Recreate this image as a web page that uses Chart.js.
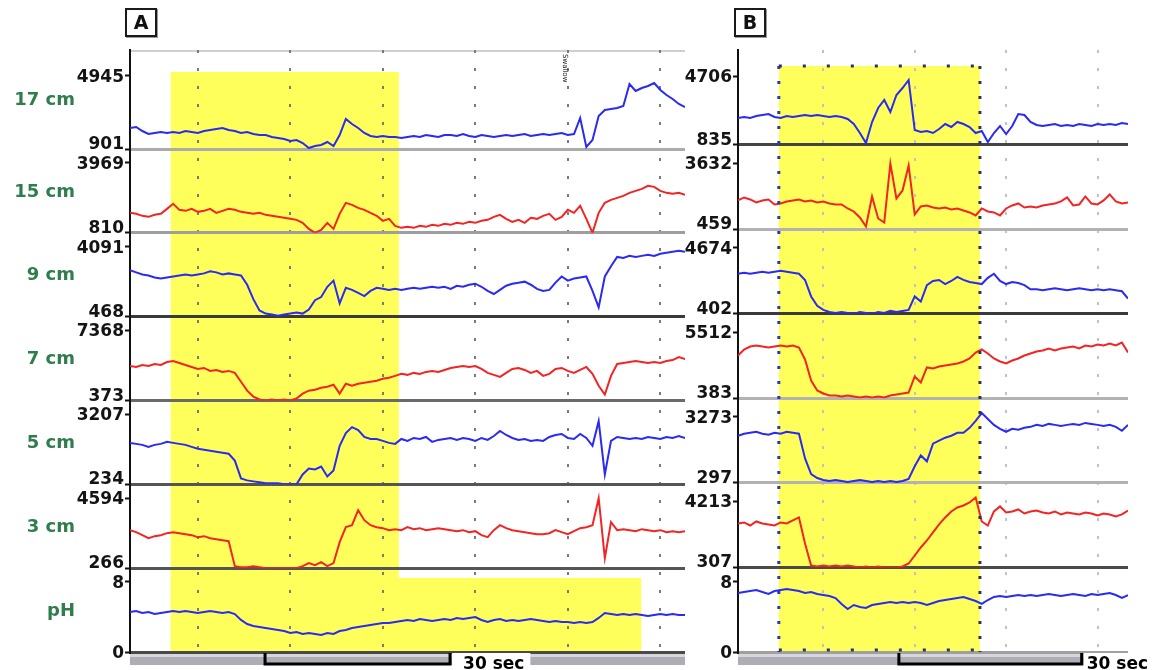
<!DOCTYPE html>
<html>
<head>
<meta charset="utf-8">
<title>Impedance-pH tracings</title>
<script src="https://cdn.jsdelivr.net/npm/chart.js@4.4.1/dist/chart.umd.min.js"></script>
<style>
  html, body { margin: 0; padding: 0; background: #fff; }
  body { position: relative; width: 1153px; height: 670px; overflow: hidden; font-family: "DejaVu Sans", Verdana, sans-serif; }
  #boxA { position: absolute; left: 0; top: 0; width: 688px; height: 670px; }
  #boxB { position: absolute; left: 680px; top: 0; width: 473px; height: 670px; }
  .tag { position: absolute; top: 8px; width: 28px; height: 25px; border: 2px solid #1a1a1a; box-shadow: 1px 1px 0 #999;
         font: bold 19px "DejaVu Sans", sans-serif; text-align: center; line-height: 25px; color: #111; background: #fff; }
</style>
</head>
<body>
<div id="boxA"><canvas id="chartA" width="688" height="670"></canvas></div>
<div id="boxB"><canvas id="chartB" width="473" height="670"></canvas></div>
<div class="tag" style="left:125px">A</div>
<div class="tag" style="left:734px">B</div>

<script>
// --- 1. DATA (time in s, impedance in ohm, pH units) ---

const timeA = [4,5,6,7,8,9,10,11,12,13,14,15,16,17,18,19,20,21,22,23,24,25,26,27,28,29,30,31,32,33,34,35,36,37,38,39,40,41,42,43,
  44,45,46,47,48,49,50,51,52,53,54,55,56,57,58,59,60,61,62,63,64,65,66,67,68,69,70,71,72,73,74,75,76,77,78,79,80,81,82,83,
  84,85,86,87,88,89,90,91,92,93,94];
const timeB = [1,2,3,4,5,6,7,8,9,10,11,12,13,14,15,16,17,18,19,20,21,22,23,24,25,26,27,28,29,30,31,32,33,34,35,36,37,38,39,40,
  41,42,43,44,45,46,47,48,49,50,51,52,53,54,55,56,57,58,59,60,61,62,63,64,65];

const channelNames = ['17 cm', '15 cm', '9 cm', '7 cm', '5 cm', '3 cm', 'pH'];
const lowA  = [901, 810, 468, 373, 234, 266, 0];
const highA = [4945, 3969, 4091, 7368, 3207, 4594, 8];
const lowB  = [835, 459, 402, 383, 297, 307, 0];
const highB = [4706, 3632, 4674, 5512, 3273, 4213, 8];

// panel A
const a17 = [2064,2120,1898,1732,1787,1843,1787,1843,1787,1898, 1843,1787,1898,1954,2009,2064,1954,1898,1787,1843,
  1732,1677,1677,1566,1510,1455,1344,1400,1233,956, 1067,1123,1289,1067,1677,2563,2286,2064,1787,1621,
  1566,1621,1566,1566,1510,1566,1621,1566,1677,1621, 1566,1677,1677,1621,1732,1621,1566,1677,1621,1566,
  1621,1677,1621,1677,1732,1621,1677,1732,1677,1732, 1787,1677,1732,2618,1012,1400,2729,3062,3117,3172,
  3283,4502,4114,4280,4391,4557,4170,3893,3671,3394, 3228];
const a15 = [1712,1667,1577,1532,1622,1667,1892,2118,1847,1802, 1892,1757,1802,1892,1712,1802,1892,1847,1757,1712,
  1667,1712,1622,1577,1532,1487,1441,1396,1261,990, 810,945,1261,990,1667,2163,2073,1938,1847,1712,
  1577,1351,1441,1126,1036,1081,1036,1126,1081,1171, 1126,1216,1171,1261,1216,1306,1261,1351,1396,1532,
  1622,1441,1306,1396,1261,1487,1441,1577,1667,1396, 1532,1847,1712,2028,1441,810,1712,2163,2298,2389,
  2479,2614,2704,2794,2930,2885,2704,2614,2569,2614, 2524];
const a9 = [2867,2760,2653,2600,2493,2440,2493,2547,2600,2653, 2600,2653,2707,2813,2760,2653,2707,2653,2600,2120,
  1374,788,628,575,521,575,628,681,628,841, 1321,1481,2014,2334,1161,1960,1854,1694,1534,1801,
  1960,1907,1854,1907,1854,1907,1960,1907,1960,2014, 1960,2014,1907,2067,2014,2120,2174,2014,1801,1641,
  1854,2067,2174,2227,2280,2120,1907,1801,1854,2227, 2547,2334,2440,2493,2547,1801,948,2547,3080,3559,
  3506,3613,3559,3613,3666,3613,3719,3773,3826,3879, 3826];
const a7 = [3821,3722,3919,3821,4018,3919,4215,4313,4116,3919, 3722,3525,3624,3328,3427,3230,3328,3131,2245,1358,
  767,472,373,472,373,472,373,570,1063,1358, 1457,1654,1752,1949,1063,2048,1851,2048,2146,2245,
  2343,2540,2639,2836,3033,2934,3131,3033,3230,3328, 3230,3427,3624,3722,3821,3722,3821,3525,3131,2934,
  2737,3131,3525,3624,3427,3131,3328,2836,3033,3525, 3624,3328,3131,3427,3722,3033,1851,964,2836,4018,
  4116,4215,4313,4215,4116,4215,4116,4313,4412,4707, 4510];
const a5 = [1994,1952,1910,1826,1910,1952,2036,1994,1952,1910, 1826,1742,1701,1659,1617,1575,1533,1240,485,402,
  360,318,276,276,276,234,234,234,653,904, 863,988,569,821,1868,2413,2664,2539,2245,2161,
  2161,2078,1994,1952,2161,2078,2203,2161,2245,2036, 2120,2161,2203,2120,2203,2161,2078,2203,2120,2287,
  2497,2329,2203,2120,2161,2078,2120,2078,2245,2329, 2371,2203,2161,2371,2203,1868,2916,653,2078,2245,
  2203,2161,2203,2161,2245,2203,2161,2245,2203,2287, 2203];
const a3 = [2614,2491,2305,2120,2244,2305,2429,2491,2429,2367, 2305,2182,2244,2120,2058,1996,1935,390,328,328,
  390,328,266,266,266,266,266,266,390,575, 451,637,390,575,1873,2800,2923,3850,3232,2923,
  2800,2738,2614,2676,2614,2800,2676,2738,2614,2676, 2738,2676,2614,2553,2614,2491,2553,2305,2182,2614,
  2923,2738,2614,2553,2491,2429,2367,2367,2429,2614, 2491,2367,2553,2738,2800,2923,4592,884,3109,2614,
  2676,2614,2553,2676,2614,2553,2614,2491,2553,2491, 2553];
const aPH = [4.57,4.69,4.46,4.57,4.34,4.46,4.57,4.69,4.57,4.69, 4.57,4.46,4.57,4.69,4.57,4.46,4.57,4.34,3.66,3.20,
  2.97,2.86,2.74,2.63,2.51,2.40,2.17,2.29,2.06,2.17, 2.06,1.94,2.17,2.06,2.40,2.51,2.74,2.86,2.97,3.09,
  3.20,3.31,3.31,3.43,3.54,3.66,3.54,3.77,3.66,3.54, 3.66,3.77,3.66,3.89,3.77,3.89,4.00,3.66,3.43,3.66,
  3.77,3.54,3.66,3.54,3.66,3.77,3.66,3.54,3.43,3.54, 3.43,3.43,3.31,3.43,3.31,3.43,3.89,4.46,4.34,4.23,
  4.34,4.23,4.34,4.23,4.11,4.23,4.34,4.23,4.34,4.23, 4.23];

// panel B
const b17 = [2350,2406,2350,2462,2518,2574,2406,2350,2462,2406, 2462,2518,2462,2518,2462,2406,2462,2406,2294,2013,
  1508,947,2125,2911,3360,2686,3640,4033,4482,1677, 1564,1620,1508,1733,2013,1845,2125,2013,1845,1508,
  1620,1003,1508,1901,1452,1901,2574,2518,2125,1957, 1901,1957,2013,1901,1957,1901,2013,1957,1901,2013,
  1957,2013,1957,2069,2013];
const b15 = [1854,1998,1902,1758,1854,1902,1662,1710,1806,1854, 1902,1806,1854,1758,1806,1710,1662,1662,1469,1325,
  1036,603,2046,988,796,3630,1950,2335,3537,1181, 1565,1613,1517,1469,1517,1421,1469,1373,1277,1132,
  1469,1325,1277,1132,1469,1613,1710,1517,1565,1517, 1613,1662,1710,1806,1998,1613,1662,2046,1710,1662,
  1854,2143,1806,1710,1758];
const b9 = [3005,3072,3005,3072,3139,3072,3139,3206,3139,3072, 3005,2605,1537,936,669,536,469,536,469,402,
  536,469,402,536,469,602,536,602,669,1537, 1203,2271,2538,2605,2338,2538,2805,2605,2471,2405,
  2338,2738,3005,2538,2338,2471,2405,2271,2004,2004, 1937,2004,2071,2004,1937,2004,2071,2004,1937,2004,
  1937,2004,1937,1871,1403];
const b7 = [3724,4190,4423,4501,4423,4346,4423,4501,4423,4501, 4346,3413,1782,1005,772,616,616,538,616,538,
  461,538,461,538,461,616,694,772,849,2092, 1626,2792,2714,2869,2947,3025,3103,3258,3491,3957,
  4190,3880,3491,3258,3103,3336,3491,3724,3880,4035, 4113,4268,4113,4268,4346,4423,4268,4501,4423,4579,
  4501,4657,4501,4734,3957];
const b5 = [2428,2517,2561,2606,2517,2473,2561,2517,2606,2561, 2517,1407,697,519,430,386,430,386,341,386,
  430,386,341,386,341,386,341,386,475,1052, 1540,1274,2073,2206,2339,2428,2561,2561,2783,3094,
  3449,3183,2917,2739,2606,2739,2695,2783,2828,2917, 2872,2961,2917,2872,2917,2961,2917,3005,2961,2917,
  2872,2917,2828,2650,2917];
const b3 = [2912,2971,2793,3030,2912,2853,2793,2971,2912,3089, 3267,1728,425,366,425,366,425,366,425,366,
  307,366,307,366,307,307,307,366,544,1017, 1491,1905,2379,2853,3267,3622,3859,3977,4155,4451,
  3030,2793,3622,3918,3563,3622,3741,3504,3622,3681, 3563,3504,3622,3445,3563,3504,3445,3563,3504,3385,
  3504,3445,3326,3445,3681];
const bPH = [6.74,6.86,6.97,7.09,6.86,6.63,6.97,7.09,7.20,7.09, 6.97,6.74,6.86,6.63,6.51,6.40,6.17,5.49,4.91,5.37,
  5.14,5.03,5.37,5.49,5.60,5.71,5.60,5.71,5.60,5.71, 5.60,5.37,5.60,5.83,5.94,6.06,6.17,6.29,6.06,5.83,
  5.49,5.94,6.29,6.40,6.29,6.40,6.51,6.40,6.51,6.40, 6.51,6.63,6.51,6.40,6.51,6.63,6.51,6.40,6.63,6.51,
  6.63,6.74,6.51,6.17,6.51];

const gridA = [15, 30, 45, 60, 75, 90];   // 15 s divisions
const gridB = [15, 30, 45, 60];
const shadeA = [10.6, 47.6, 86.9];        // reflux episode: start, end, end of pH drop
const shadeB = [7.7, 40.7];
const barA = [25.9, 55.9];                // 30 sec scale bar
const barB = [27.4, 57.4];
const eventA = [74.7];

// --- 2. STYLE ---
const BLUE = '#2a2af2', RED = '#f32424', YELLOW = '#ffff5c', GREEN = '#2f7d4d';
const traceColors = [BLUE, RED, BLUE, RED, BLUE, RED, BLUE];
const baseColorsA = ['#ababab', '#9e9e9e', '#3a3a3a', '#6a6a6a', '#555555', '#555555', '#4a4a4a'];
const baseColorsB = ['#444444', '#b2b2b2', '#3a3a3a', '#b2b2b2', '#b2b2b2', '#4a4a4a', '#a0a0a0'];
const FONT = '"DejaVu Sans", Verdana, sans-serif';

Chart.defaults.font.family = FONT;

// --- 3. DECORATION PLUGIN (shading, value labels, time bar) ---
function makeDecor(p) {
    function line(ctx, x0, y0, x1, y1) {
        ctx.beginPath(); ctx.moveTo(x0, y0); ctx.lineTo(x1, y1); ctx.stroke();
    }
    return {
        id: 'decor',
        beforeDraw(chart) {
            const { ctx, chartArea: ca, scales } = chart;
            const x = scales.x;
            ctx.save();
            ctx.fillStyle = YELLOW;
            p.shades.forEach(s => {
                const x0 = x.getPixelForValue(s.from), x1 = x.getPixelForValue(s.to);
                const top = scales['y' + s.track].getPixelForValue(p.high[s.track]) - s.lift;
                ctx.fillRect(x0, top, x1 - x0, ca.bottom - top);
            });
            if (p.topRule) {
                ctx.strokeStyle = '#cfcfcf'; ctx.lineWidth = 2;
                line(ctx, ca.left, ca.top + 1, ca.right, ca.top + 1);
            }
            ctx.restore();
        },
        afterDraw(chart) {
            const { ctx, chartArea: ca, scales } = chart;
            const x = scales.x;
            const yb = ca.bottom;
            ctx.save();

            // min / max labels of every track
            ctx.font = 'bold 17px ' + FONT;
            ctx.fillStyle = '#141414';
            ctx.textAlign = 'right';
            ctx.textBaseline = 'alphabetic';
            p.low.forEach((lo, i) => {
                const s = scales['y' + i];
                const lx = s.right - 6;
                const last = i === p.low.length - 1;
                ctx.fillText(String(p.high[i]), lx, s.getPixelForValue(p.high[i]) + 6);
                ctx.fillText(String(lo), lx, s.getPixelForValue(lo) + (last ? 6 : 0));
            });

            // channel names (panel A only)
            if (p.names) {
                ctx.font = 'bold 18px ' + FONT;
                ctx.fillStyle = GREEN;
                ctx.textBaseline = 'middle';
                p.names.forEach((n, i) => {
                    const s = scales['y' + i];
                    ctx.fillText(n, p.nameRight, (s.top + s.bottom) / 2 + 1);
                });
            }

            // dotted frame of the marked episode (panel B)
            if (p.dotted) {
                const s = p.shades[0];
                const x0 = x.getPixelForValue(s.from), x1 = x.getPixelForValue(s.to);
                const top = scales['y' + s.track].getPixelForValue(p.high[s.track]) - s.lift;
                ctx.lineWidth = 3;
                ctx.setLineDash([3, 12]);
                ctx.strokeStyle = '#2636c8';
                line(ctx, x0, top, x0, yb);
                ctx.strokeStyle = '#2c3264';
                line(ctx, x1, top, x1, yb);
                ctx.setLineDash([3, 21]);
                line(ctx, x0, top, x1, top);
                line(ctx, x0, yb - 2, x1, yb - 2);
                ctx.setLineDash([]);
            }

            // event marks (small vertical text)
            (p.events || []).forEach(t => {
                const ex = x.getPixelForValue(t);
                ctx.save();
                ctx.translate(ex - 1, ca.top + 4);
                ctx.rotate(Math.PI / 2);
                ctx.font = '7px ' + FONT;
                ctx.fillStyle = '#222';
                ctx.textAlign = 'left';
                ctx.textBaseline = 'middle';
                ctx.fillText('Swallow', 0, 0);
                ctx.restore();
            });

            // time bar with 30 sec bracket
            ctx.fillStyle = '#d6d6dc';
            ctx.fillRect(ca.left, yb + 2, ca.width, 3);
            ctx.fillStyle = '#adadb5';
            ctx.fillRect(ca.left, yb + 5, ca.width, 8);
            const b0 = x.getPixelForValue(p.bar[0]), b1 = x.getPixelForValue(p.bar[1]);
            ctx.font = 'bold 17px ' + FONT;
            const tw = ctx.measureText('30 sec').width;
            ctx.fillStyle = '#fff';
            ctx.fillRect(b1 + 2, yb + 1, p.barGap + tw + 4, 18);
            ctx.strokeStyle = '#000';
            ctx.lineWidth = 3;
            ctx.beginPath();
            ctx.moveTo(b0, yb + 1); ctx.lineTo(b0, yb + 12); ctx.lineTo(b1, yb + 12); ctx.lineTo(b1, yb + 1);
            ctx.stroke();
            ctx.fillStyle = '#000';
            ctx.textAlign = 'left';
            ctx.textBaseline = 'alphabetic';
            ctx.fillText('30 sec', b1 + p.barGap, yb + 17);

            ctx.restore();
        }
    };
}

// --- 4. BUILD ONE PANEL ---
function buildPanel(canvasId, p) {
    const scales = {
        x: {
            type: 'linear', position: 'bottom', min: p.tMin, max: p.tMax,
            afterBuildTicks: s => { s.ticks = p.grid.map(v => ({ value: v })); },
            afterFit: s => { s.height = 0; },
            ticks: { display: false },
            grid: { color: p.gridColor, lineWidth: 2, drawTicks: false },
            border: { display: false, dash: [3, 15] }
        }
    };
    p.series.forEach((vals, i) => {
        const lo = p.low[i], hi = p.high[i];
        scales['y' + i] = {
            type: 'linear', position: 'left', stack: 'tracks',
            stackWeight: i === 0 ? p.firstWeight : 1,
            weight: 10 - i,
            min: lo, max: lo + (hi - lo) * p.head[i],
            afterBuildTicks: s => { s.ticks = [{ value: lo }, { value: hi }]; },
            afterFit: s => { s.width = p.axisWidth; },
            ticks: { display: false },
            grid: {
                color: c => c.index === 0 ? p.baseColors[i] : 'rgba(0,0,0,0)',
                lineWidth: 3, tickLength: 5, tickWidth: 2, tickColor: '#111'
            },
            border: { display: true, color: '#111', width: 2 }
        };
    });

    const datasets = p.series.map((vals, i) => ({
        label: channelNames[i],
        data: p.time.map((t, k) => ({ x: t, y: vals[k] })),
        xAxisID: 'x',
        yAxisID: 'y' + i,
        borderColor: traceColors[i],
        borderWidth: 2,
        pointRadius: 0,
        tension: 0,
        fill: false
    }));

    return new Chart(document.getElementById(canvasId), {
        type: 'line',
        data: { datasets: datasets },
        options: {
            responsive: false,
            animation: false,
            devicePixelRatio: 1,
            events: [],
            layout: { padding: p.padding },
            scales: scales,
            plugins: { legend: { display: false }, tooltip: { enabled: false } }
        },
        plugins: [makeDecor(p)]
    });
}

buildPanel('chartA', {
    time: timeA, tMin: 4, tMax: 94, grid: gridA,
    series: [a17, a15, a9, a7, a5, a3, aPH],
    low: lowA, high: highA,
    head: [1.356, 1.197, 1.197, 1.197, 1.197, 1.197, 1.197],
    firstWeight: 1.181,
    axisWidth: 130,
    baseColors: baseColorsA,
    gridColor: '#7a7a7a',
    shades: [
        { from: shadeA[0], to: shadeA[1], track: 0, lift: 4 },
        { from: shadeA[0], to: shadeA[2], track: 6, lift: 4 }
    ],
    topRule: true,
    names: channelNames, nameRight: 75,
    events: eventA,
    bar: barA, barGap: 13,
    padding: { top: 50, right: 3, bottom: 18, left: 0 }
});

buildPanel('chartB', {
    time: timeB, tMin: 1, tMax: 65, grid: gridB,
    series: [b17, b15, b9, b7, b5, b3, bPH],
    low: lowB, high: highB,
    head: [1.377, 1.28, 1.28, 1.28, 1.28, 1.28, 1.207],
    firstWeight: 1.124,
    axisWidth: 58,
    baseColors: baseColorsB,
    gridColor: '#c2c2c2',
    shades: [{ from: shadeB[0], to: shadeB[1], track: 0, lift: 10 }],
    dotted: true,
    bar: barB, barGap: 5,
    padding: { top: 50, right: 25, bottom: 18, left: 0 }
});
</script>
</body>
</html>
